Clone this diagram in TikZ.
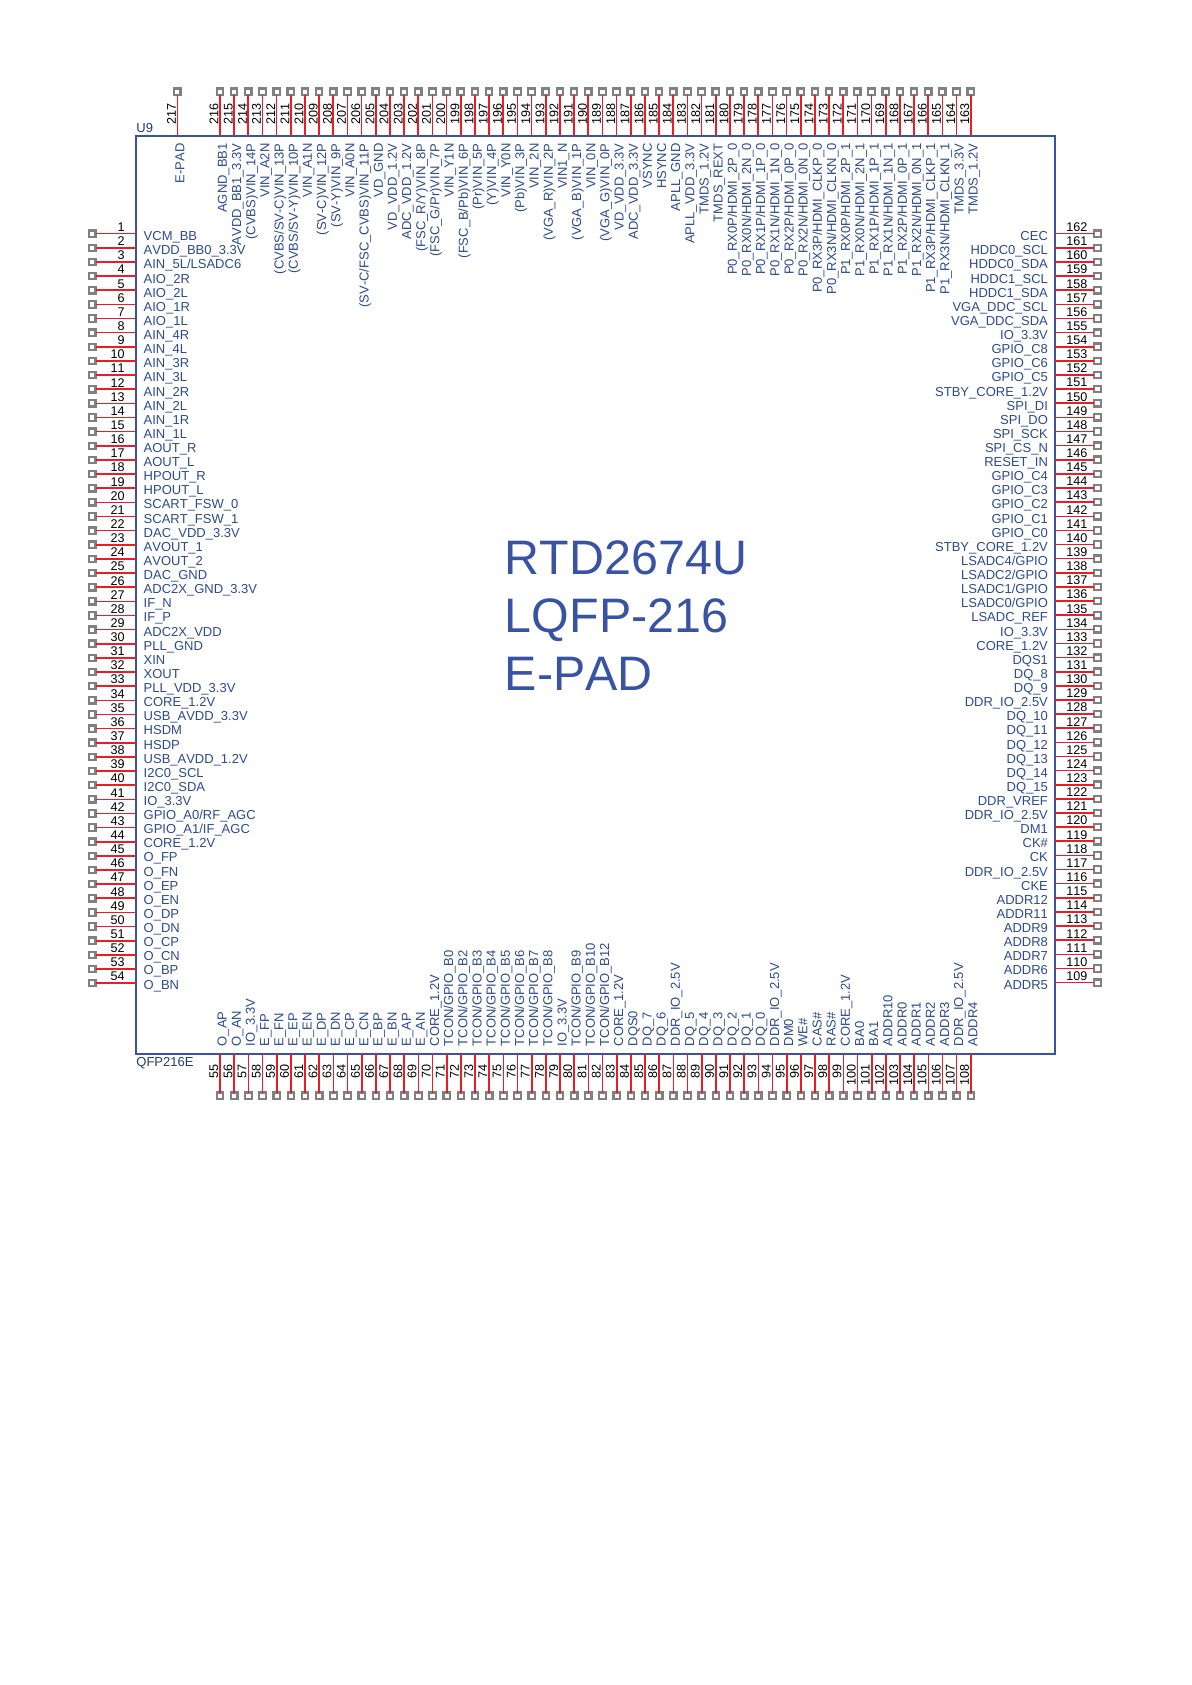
\documentclass[tikz,border=0pt]{standalone}
\usepackage{fontspec}
\setmainfont[Kerning=Off]{Liberation Sans}
\definecolor{pinred}{HTML}{ED1C24}
\definecolor{boxblue}{HTML}{3953A4}
\definecolor{textblue}{HTML}{2B4A8C}
\definecolor{padgray}{HTML}{808080}
\tikzset{
  pad/.style={rectangle, draw=padgray, fill=white, line width=1.1pt, inner sep=0pt, outer sep=0pt, minimum size=3.2pt},
  pin/.style={draw=pinred, line width=0.8pt},
  pinname/.style={inner sep=0pt, text=textblue, font=\fontsize{6.5}{7}\selectfont},
  pinnum/.style={inner sep=0pt, text=black, font=\fontsize{6.3}{7}\selectfont},
  title/.style={inner sep=0pt, text=boxblue, font=\fontsize{24.2}{28}\selectfont, anchor=base west},
}
\begin{document}
\begin{tikzpicture}[x=.5pt,y=-.5pt]
\useasboundingbox (0,0) rectangle (1191,1685);
\draw[boxblue, line width=0.8pt] (136,136) rectangle (1055,1054);
\node[pinname, anchor=base west, text=textblue!80!black] (refdes) at (136,132.7){U9};
\node[pinname, anchor=base west, text=textblue!80!black] (pkg) at (136,1066){QFP216E};
\node[title] (chip) at (504.5,574.3){RTD2674U};
\node[title] (package) at (504.5,632.7){LQFP-216};
\node[title] (epad) at (504.5,690.7){E-PAD};
% left side
\foreach \n/\name in {1/VCM\_BB,2/AVDD\_BB0\_3.3V,3/{AIN\_5L/LSADC6},4/AIO\_2R,5/AIO\_2L,6/AIO\_1R,7/AIO\_1L,8/AIN\_4R,9/AIN\_4L,
  10/AIN\_3R,11/AIN\_3L,12/AIN\_2R,13/AIN\_2L,14/AIN\_1R,15/AIN\_1L,16/AOUT\_R,17/AOUT\_L,18/HPOUT\_R,19/HPOUT\_L,
  20/SCART\_FSW\_0,21/SCART\_FSW\_1,22/DAC\_VDD\_3.3V,23/AVOUT\_1,24/AVOUT\_2,25/DAC\_GND,26/ADC2X\_GND\_3.3V,27/IF\_N,28/IF\_P,
  29/ADC2X\_VDD,30/PLL\_GND,31/XIN,32/XOUT,33/PLL\_VDD\_3.3V,34/CORE\_1.2V,35/USB\_AVDD\_3.3V,36/HSDM,37/HSDP,38/USB\_AVDD\_1.2V,
  39/I2C0\_SCL,40/I2C0\_SDA,41/IO\_3.3V,42/{GPIO\_A0/RF\_AGC},43/{GPIO\_A1/IF\_AGC},44/CORE\_1.2V,45/O\_FP,46/O\_FN,47/O\_EP,48/O\_EN,
  49/O\_DP,50/O\_DN,51/O\_CP,52/O\_CN,53/O\_BP,54/O\_BN}{
  \pgfmathsetmacro{\py}{233.7+(\n-1)*14.14}
  \pgfmathsetmacro{\ty}{240.7+(\n-1)*14.12}
  \node[pad] (pad\n) at (92.3,\py){};
  \coordinate (end\n) at (136,\py);
  \draw[pin] (pad\n) -- (end\n);
  \node[pinnum, anchor=base east] (num\n) at (125,\py-2.2){\n};
  \node[pinname, anchor=base west] (name\n) at (143.3,\ty){\name};
}
% bottom side
\foreach \n/\name in {55/O\_AP,56/O\_AN,57/IO\_3.3V,58/E\_FP,59/E\_FN,60/E\_EP,61/E\_EN,62/E\_DP,63/E\_DN,64/E\_CP,65/E\_CN,66/E\_BP,
  67/E\_BN,68/E\_AP,69/E\_AN,70/CORE\_1.2V,71/{TCON/GPIO\_B0},72/{TCON/GPIO\_B2},73/{TCON/GPIO\_B3},74/{TCON/GPIO\_B4},
  75/{TCON/GPIO\_B5},76/{TCON/GPIO\_B6},77/{TCON/GPIO\_B7},78/{TCON/GPIO\_B8},79/IO\_3.3V,80/{TCON/GPIO\_B9},81/{TCON/GPIO\_B10},
  82/{TCON/GPIO\_B12},83/CORE\_1.2V,84/DQS0,85/DQ\_7,86/DQ\_6,87/DDR\_IO\_2.5V,88/DQ\_5,89/DQ\_4,90/DQ\_3,91/DQ\_2,92/DQ\_1,93/DQ\_0,
  94/DDR\_IO\_2.5V,95/DM0,96/WE\#,97/CAS\#,98/RAS\#,99/CORE\_1.2V,100/BA0,101/BA1,102/ADDR10,103/ADDR0,104/ADDR1,105/ADDR2,
  106/ADDR3,107/DDR\_IO\_2.5V,108/ADDR4}{
  \pgfmathsetmacro{\px}{220.1+(\n-55)*14.165}
  \node[pad] (pad\n) at (\px,1095.7){};
  \coordinate (end\n) at (\px,1054);
  \draw[pin] (pad\n) -- (end\n);
  \node[pinnum, rotate=90, anchor=base east] (num\n) at (\px-2,1063.7){\n};
  \node[pinname, rotate=90, anchor=base west] (name\n) at (\px+6.5,1046.7){\name};
}
% right side
\foreach \n/\name in {109/ADDR5,110/ADDR6,111/ADDR7,112/ADDR8,113/ADDR9,114/ADDR11,115/ADDR12,116/CKE,117/DDR\_IO\_2.5V,118/CK,
  119/CK\#,120/DM1,121/DDR\_IO\_2.5V,122/DDR\_VREF,123/DQ\_15,124/DQ\_14,125/DQ\_13,126/DQ\_12,127/DQ\_11,128/DQ\_10,129/DDR\_IO\_2.5V,
  130/DQ\_9,131/DQ\_8,132/DQS1,133/CORE\_1.2V,134/IO\_3.3V,135/LSADC\_REF,136/{LSADC0/GPIO},137/{LSADC1/GPIO},138/{LSADC2/GPIO},
  139/{LSADC4/GPIO},140/STBY\_CORE\_1.2V,141/GPIO\_C0,142/GPIO\_C1,143/GPIO\_C2,144/GPIO\_C3,145/GPIO\_C4,146/RESET\_IN,147/SPI\_CS\_N,
  148/SPI\_SCK,149/SPI\_DO,150/SPI\_DI,151/STBY\_CORE\_1.2V,152/GPIO\_C5,153/GPIO\_C6,154/GPIO\_C8,155/IO\_3.3V,156/VGA\_DDC\_SDA,
  157/VGA\_DDC\_SCL,158/HDDC1\_SDA,159/HDDC1\_SCL,160/HDDC0\_SDA,161/HDDC0\_SCL,162/CEC}{
  \pgfmathsetmacro{\py}{233.7+(162-\n)*14.13}
  \pgfmathsetmacro{\ty}{240.7+(162-\n)*14.12}
  \node[pad] (pad\n) at (1097.5,\py){};
  \coordinate (end\n) at (1055,\py);
  \draw[pin] (pad\n) -- (end\n);
  \node[pinnum, anchor=base west] (num\n) at (1066,\py-2.2){\n};
  \node[pinname, anchor=base east] (name\n) at (1048.3,\ty){\name};
}
% top side
\foreach \n/\name in {163/TMDS\_1.2V,164/TMDS\_3.3V,165/{P1\_RX3N/HDMI\_CLKN\_1},166/{P1\_RX3P/HDMI\_CLKP\_1},167/{P1\_RX2N/HDMI\_0N\_1},
  168/{P1\_RX2P/HDMI\_0P\_1},169/{P1\_RX1N/HDMI\_1N\_1},170/{P1\_RX1P/HDMI\_1P\_1},171/{P1\_RX0N/HDMI\_2N\_1},172/{P1\_RX0P/HDMI\_2P\_1},
  173/{P0\_RX3N/HDMI\_CLKN\_0},174/{P0\_RX3P/HDMI\_CLKP\_0},175/{P0\_RX2N/HDMI\_0N\_0},176/{P0\_RX2P/HDMI\_0P\_0},177/{P0\_RX1N/HDMI\_1N\_0},
  178/{P0\_RX1P/HDMI\_1P\_0},179/{P0\_RX0N/HDMI\_2N\_0},180/{P0\_RX0P/HDMI\_2P\_0},181/TMDS\_REXT,182/TMDS\_1.2V,183/APLL\_VDD\_3.3V,
  184/APLL\_GND,185/HSYNC,186/VSYNC,187/ADC\_VDD\_3.3V,188/VD\_VDD\_3.3V,189/(VGA\_G)VIN\_0P,190/VIN\_0N,191/(VGA\_B)VIN\_1P,192/VIN1\_N,
  193/(VGA\_R)VIN\_2P,194/VIN\_2N,195/(Pb)VIN\_3P,196/VIN\_Y0N,197/(Y)VIN\_4P,198/(Pr)VIN\_5P,199/{(FSC\_B/Pb)VIN\_6P},200/VIN\_Y1N,
  201/{(FSC\_G/Pr)VIN\_7P},202/{(FSC\_R/Y)VIN\_8P},203/ADC\_VDD\_1.2V,204/VD\_VDD\_1.2V,205/VD\_GND,206/{(SV-C/FSC\_CVBS)VIN\_11P},
  207/VIN\_A0N,208/(SV-Y)VIN\_9P,209/(SV-C)VIN\_12P,210/VIN\_A1N,211/{(CVBS/SV-Y)VIN\_10P},212/{(CVBS/SV-C)VIN\_13P},213/VIN\_A2N,
  214/(CVBS)VIN\_14P,215/AVDD\_BB1\_3.3V,216/AGND\_BB1}{
  \pgfmathsetmacro{\px}{970.7-(\n-163)*14.165}
  \node[pad] (pad\n) at (\px,91.7){};
  \coordinate (end\n) at (\px,136);
  \draw[pin] (pad\n) -- (end\n);
  \node[pinnum, rotate=90, anchor=base west] (num\n) at (\px-1.5,125){\n};
  \node[pinname, rotate=90, anchor=base east] (name\n) at (\px+7,143){\name};
}
% exposed pad
\node[pad] (pad217) at (177.3,91.7){};
\coordinate (end217) at (177.3,136);
\draw[pin] (pad217) -- (end217);
\node[pinnum, rotate=90, anchor=base west] (num217) at (175.8,125){217};
\node[pinname, rotate=90, anchor=base east] (name217) at (184.3,143){E-PAD};
\end{tikzpicture}
\end{document}
